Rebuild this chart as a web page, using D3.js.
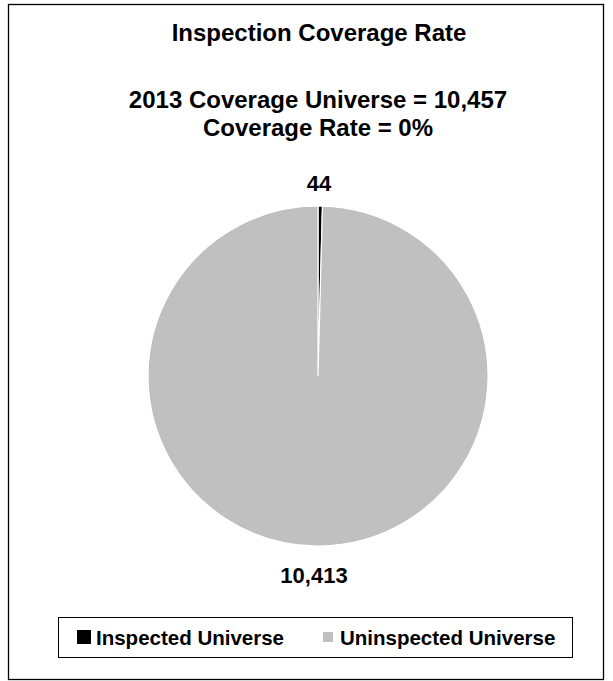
<!DOCTYPE html>
<html><head><meta charset="utf-8">
<script src="https://cdn.jsdelivr.net/npm/d3@7"></script>
<style>body{margin:0;background:#fff}svg{display:block}text{font-family:"Liberation Sans",Arial,sans-serif;font-weight:bold;fill:#000}</style>
</head><body>
<script>
const categories = ["Inspected Universe", "Uninspected Universe"];
const values = [44, 10413];
const colors = ["#000000", "#c0c0c0"];
const titleLines = ["Inspection Coverage Rate"];
const subtitleLines = ["2013 Coverage Universe = 10,457", "Coverage Rate = 0%"];
const labels = ["44", "10,413"];

const W = 613, H = 681;
const svg = d3.select("body").append("svg").attr("width", W).attr("height", H);
svg.append("rect").attr("x", 8.5).attr("y", 4.5).attr("width", 595).attr("height", 675)
  .attr("fill", "#fff").attr("stroke", "#000").attr("stroke-width", 1.3);

svg.append("text").attr("x", 319).attr("y", 41).attr("text-anchor", "middle")
  .style("font-size", "24px").text(titleLines[0]);
svg.selectAll(".sub").data(subtitleLines).enter().append("text")
  .attr("x", 318).attr("y", (d, i) => 108 + i * 28).attr("text-anchor", "middle")
  .style("font-size", "24px").text(d => d);

const cx = 318, cy = 376, r = 170;
const pie = d3.pie().sort(null).value(d => d)(values);
const arc = d3.arc().innerRadius(0).outerRadius(r);
const g = svg.append("g").attr("transform", `translate(${cx},${cy})`);
g.selectAll("path").data(pie).enter().append("path")
  .attr("d", arc).attr("fill", (d, i) => colors[i])
  .attr("stroke", "#fff").attr("stroke-width", 1.2).attr("stroke-linejoin", "round");

// labels
const labelPos = [[1, 191 - cy], [-4, 583 - cy]];
g.selectAll(".lbl").data(labels).enter().append("text")
  .attr("x", (d, i) => labelPos[i][0]).attr("y", (d, i) => labelPos[i][1])
  .attr("text-anchor", "middle").style("font-size", "22px").text(d => d);

// legend
svg.append("rect").attr("x", 58.5).attr("y", 617.5).attr("width", 514).attr("height", 40)
  .attr("fill", "#fff").attr("stroke", "#000").attr("stroke-width", 1);
const legX = [77, 323];
const lg = svg.selectAll(".leg").data(categories).enter().append("g")
  .attr("transform", (d, i) => `translate(${legX[i]},637)`);
lg.append("rect").attr("x", 0).attr("y", (d, i) => i === 0 ? -7 : -5)
  .attr("width", (d, i) => i === 0 ? 14 : 10).attr("height", (d, i) => i === 0 ? 14 : 10)
  .attr("fill", (d, i) => colors[i]);
lg.append("text").attr("x", (d, i) => i === 0 ? 19 : 17).attr("y", 7.5).style("font-size", "20.5px").text(d => d);
</script>
</body></html>
